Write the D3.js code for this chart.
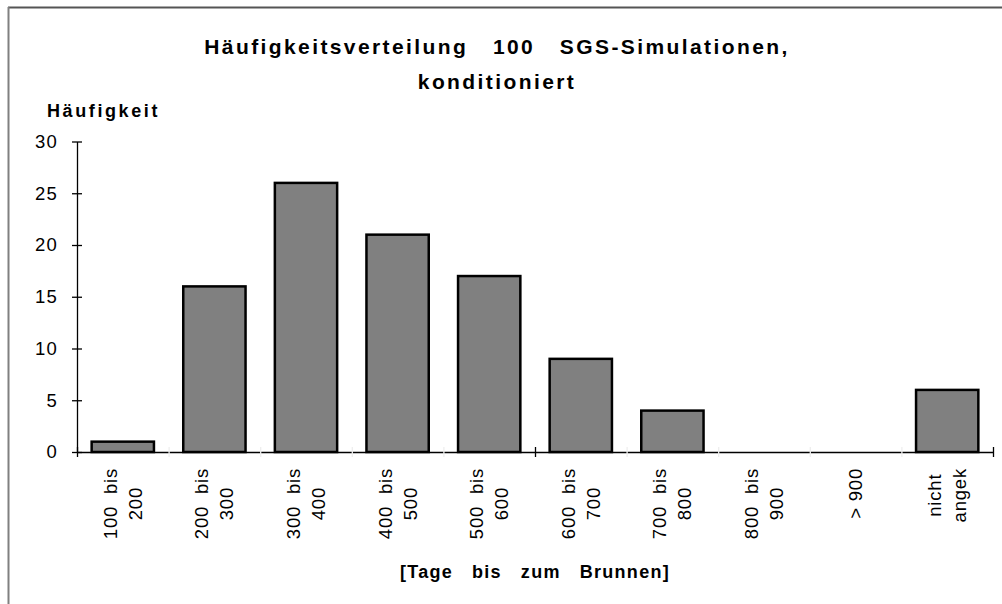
<!DOCTYPE html>
<html>
<head>
<meta charset="utf-8">
<script src="https://cdn.jsdelivr.net/npm/d3@7"></script>
<style>
  body { margin: 0; background: #fff; }
  svg { display: block; font-family: Arial, "Liberation Sans", Helvetica, sans-serif; }
  text { white-space: pre; }
</style>
</head>
<body>
<svg id="chart" width="1002" height="604"></svg>
<script>
// data
let categories = ["100  bis\n200", "200  bis\n300", "300  bis\n400", "400  bis\n500", "500  bis\n600",
                  "600  bis\n700", "700  bis\n800", "800  bis\n900", "> 900", "nicht\nangek"];
let counts = [1, 16, 26, 21, 17, 9, 4, 0, 0, 6];
let yTicks = [0, 5, 10, 15, 20, 25, 30];
let titleLines = ["Häufigkeitsverteilung   100   SGS-Simulationen,", "konditioniert"];
let yTitle = "Häufigkeit";
let xTitle = "[Tage   bis   zum   Brunnen]";

let svg = d3.select("#chart");

let plot = {left: 77, right: 993, top: 141.5, bottom: 452};

// frame around the chart area
svg.append("line").attr("x1", 8).attr("x2", 1002).attr("y1", 7.5).attr("y2", 7.5)
    .attr("stroke", "#555").attr("stroke-width", 2);
svg.append("line").attr("x1", 8.5).attr("x2", 8.5).attr("y1", 7).attr("y2", 604)
    .attr("stroke", "#808080").attr("stroke-width", 2);

let x = d3.scaleBand().domain(categories).range([plot.left, plot.right])
    .paddingInner(0.32).paddingOuter(0.16);
let xb = d3.scaleLinear().domain([0, categories.length]).range([plot.left, plot.right]);
let y = d3.scaleLinear().domain([0, 30]).range([plot.bottom, plot.top]);

// title
svg.append("g").selectAll("text").data(titleLines).join("text")
    .attr("x", 497)
    .attr("y", (d, i) => 54 + i * 35)
    .attr("text-anchor", "middle")
    .attr("font-size", 21)
    .attr("font-weight", "bold")
    .attr("letter-spacing", 2.4)
    .text(d => d);

svg.append("text")
    .attr("x", 47).attr("y", 117)
    .attr("font-size", 18)
    .attr("font-weight", "bold")
    .attr("letter-spacing", 2.6)
    .text(yTitle);

svg.append("text")
    .attr("x", 535).attr("y", 578)
    .attr("text-anchor", "middle")
    .attr("font-size", 18)
    .attr("font-weight", "bold")
    .attr("letter-spacing", 1.3)
    .text(xTitle);

// bars
svg.append("g").selectAll("rect").data(counts.map((v, i) => ({c: categories[i], v: v})).filter(d => d.v > 0))
    .join("rect")
    .attr("x", d => x(d.c))
    .attr("y", d => y(d.v))
    .attr("width", x.bandwidth())
    .attr("height", d => y(0) - y(d.v))
    .attr("fill", "#808080")
    .attr("stroke", "#000")
    .attr("stroke-width", 2.5);

// y axis
let yAxis = d3.axisLeft(y).tickValues(yTicks).tickSizeOuter(0).tickSizeInner(5).tickPadding(14);
let gy = svg.append("g").attr("transform", "translate(" + plot.left + ",0)").call(yAxis);
gy.select(".domain").attr("stroke", "#000").attr("stroke-width", 1.3);
gy.selectAll(".tick line").attr("x1", 5).attr("x2", -5).attr("stroke-width", 1.3);
gy.selectAll(".tick text")
    .attr("font-family", "Arial, 'Liberation Sans', sans-serif")
    .attr("font-size", 18.5)
    .attr("letter-spacing", 1.2)
    .attr("fill", "#000");

// x axis: faint ticks at all category boundaries, real ticks every 5
let xAxis = d3.axisBottom(xb).tickValues(d3.range(0, categories.length + 1)).tickSizeOuter(0)
    .tickSizeInner(5).tickFormat("");
let gx = svg.append("g").attr("transform", "translate(0," + plot.bottom + ")").call(xAxis);
gx.select(".domain").attr("stroke", "#000").attr("stroke-width", 1.3);
gx.selectAll(".tick line")
    .attr("y1", -5)
    .attr("stroke-width", 1.3)
    .attr("stroke", d => d % 5 === 0 ? "#000" : "#eee");

// category labels, rotated, lines centred on each other
let labels = svg.append("g").selectAll("text").data(categories).join("text")
    .attr("font-size", 18.5)
    .attr("letter-spacing", 0.8)
    .attr("text-anchor", "middle");

labels.each(function(d) {
    let lines = d.split("\n");
    let t = d3.select(this);
    let cx = x(d) + x.bandwidth() / 2;
    let spacing = 25;
    let tspans = lines.map(line => t.append("tspan").text(line));
    let maxLen = d3.max(tspans, s => s.node().getComputedTextLength());
    let cy = 468 + maxLen / 2;
    let first = cx - (lines.length - 1) * spacing / 2;
    // after rotate(-90) the local y axis points right on screen
    t.attr("transform", "translate(0," + cy + ") rotate(-90)");
    tspans.forEach((s, i) => {
        s.attr("x", 0).attr("y", first + i * spacing + 6.5);
    });
});
</script>
</body>
</html>
